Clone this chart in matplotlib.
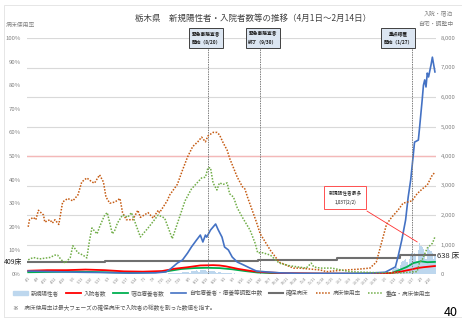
import pandas as pd
import matplotlib
matplotlib.use("Agg")
import matplotlib.pyplot as plt
from matplotlib.patches import Patch, Rectangle
from matplotlib.lines import Line2D

plt.rcParams['font.family'] = ['Noto Sans CJK JP', 'DejaVu Sans']

start = pd.Timestamp("2021-04-01")
n_days = 320  # 4/1 ~ 2/14

# 病床使用率 (%) : (day index from 4/1, value)
rate_days = [0, 1, 4, 6, 8, 12, 13, 17, 19, 21, 24, 27, 31, 35, 39, 42, 46, 50, 52, 56, 59, 61, 64, 68, 72,
             74, 77, 82, 86, 88, 94, 98, 102, 103, 109, 111, 117, 121, 125, 129, 133, 136, 139, 141, 145, 148,
             150, 153, 156, 158, 161, 164, 168, 170, 172, 179, 182, 190, 197, 208, 213, 229, 234, 244, 258, 268,
             273, 277, 281, 285, 290, 294, 301, 305, 309, 313, 317, 319]
rate_vals = [20, 23, 24, 23, 27, 25, 22, 23, 21.6, 23, 21, 30.5, 32, 31, 33.5, 39, 40.7, 39, 38.5, 42, 39, 32.6,
             30, 30.5, 32, 26, 23, 23, 27, 24, 26, 23.7, 27, 26, 31, 33.5, 38, 44, 49.6, 54, 56, 58, 56, 58.5,
             60, 60, 59, 55.5, 52.5, 49, 45, 41, 37, 36, 32.6, 22, 17, 10, 5, 2.5, 2.5, 1.7, 1, 1.5, 2, 2.5,
             5, 13, 21, 24, 27, 30, 31, 34, 36, 37.7, 42, 43]

# 重症・病床使用率 (%)
severe_days = [0, 4, 9, 17, 21, 23, 26, 29, 33, 35, 39, 43, 46, 48, 50, 54, 56, 60, 62, 66, 68, 70, 74, 78, 81,
               84, 88, 94, 102, 107, 113, 123, 128, 136, 139, 141, 143, 145, 148, 150, 153, 156, 158, 161, 164,
               168, 174, 178, 180, 184, 190, 194, 197, 205, 218, 222, 224, 229, 238, 252, 276, 292, 305, 307,
               309, 313, 317, 319]
severe_vals = [6, 7, 6.4, 7, 8, 8, 6, 4.6, 7, 12, 9, 8, 6.8, 14, 19.5, 17, 20, 25, 26, 17, 18.6, 21.6, 25, 24, 26,
               21.6, 15.7, 19.5, 25, 23.7, 15, 31, 36, 40.7, 41, 45, 45, 38.6, 35.6, 38.6, 38, 38.6, 34, 32.6,
               28, 24, 18.6, 13, 9, 9, 8, 6, 4.6, 3.5, 2.5, 4.6, 3, 2.5, 2.5, 1, 0.5, 0.5, 1, 5, 6, 11, 13, 15.7]

# 自宅療養者・療養等調整中数
home_days = [0, 20, 40, 60, 80, 100, 108, 111, 117, 121, 125, 128, 132, 135, 137, 139, 140, 143, 147, 149, 152,
             154, 157, 160, 164, 169, 174, 179, 187, 197, 213, 244, 268, 280, 288, 290, 293, 296, 298, 300, 302,
             303, 306, 307, 309, 310, 311, 312, 313, 314, 316, 317, 318, 319]
home_vals = [100, 80, 60, 50, 30, 40, 70, 150, 370, 475, 710, 915, 1150, 1320, 1085, 1320, 1250, 1490, 1695,
             1500, 1250, 915, 815, 575, 405, 305, 200, 100, 70, 40, 20, 20, 30, 60, 240, 575, 1150, 1830, 2600,
             3190, 4030, 4470, 4540, 4980, 5900, 6400, 6580, 6340, 6810, 6680, 7100, 7350, 7100, 6850]

# 入院者数
hosp_days = [0, 15, 30, 45, 60, 75, 90, 105, 115, 125, 135, 145, 150, 155, 165, 175, 185, 200, 230, 260, 280,
             290, 300, 305, 310, 319]
hosp_vals = [110, 130, 130, 150, 130, 90, 80, 100, 180, 230, 290, 300, 290, 260, 170, 100, 60, 30, 15, 10, 20,
             60, 150, 200, 230, 270]

# 宿泊療養者数
hotel_days = [0, 20, 40, 60, 80, 100, 110, 120, 130, 140, 150, 160, 170, 180, 200, 260, 285, 292, 297, 302,
              308, 313, 319]
hotel_vals = [60, 70, 80, 60, 40, 60, 100, 170, 200, 210, 200, 160, 100, 50, 15, 5, 30, 150, 240, 370, 430,
              400, 410]

# 確保病床 (step)
beds_days = [0, 60, 180, 242, 292, 319]
beds_vals = [409, 430, 474, 542, 638, 638]

# 新規陽性者 (daily)
pos_summer_start = 110
pos_summer = [20, 25, 30, 28, 22, 35, 40, 45, 50, 38, 30, 55, 60, 70, 75, 80, 60, 50, 85, 95, 110, 105, 120,
              90, 70, 120, 135, 150, 140, 130, 100, 80, 110, 115, 100, 90, 85, 60, 50, 70, 65, 55, 45, 30, 25,
              40, 35, 30, 25, 20, 15, 12, 20, 15, 12, 10, 8, 6, 8, 5]
pos_winter_start = 275
pos_winter = [3, 5, 8, 10, 20, 30, 40, 60, 70, 50, 60, 120, 170, 200, 250, 220, 170, 300, 400, 450, 480, 500,
              420, 300, 520, 640, 700, 680, 700, 620, 450, 800, 1037, 950, 900, 850, 700, 500, 850, 900, 820,
              780, 700, 500, 650]

events = [(141, "緊急事態宣言\n開始（8/20）", -1.5), (182, "緊急事態宣言\n終了（9/30）", 2.0),
          (301, "重点措置\n開始（1/27）", -11.0)]

fig = plt.figure(figsize=(4.62, 3.2), dpi=100)
# faint frame of the chart object (right edge lies beyond the crop)
fig.patches.append(Rectangle((4 / 462, 1 - 317 / 320), 470 / 462, 312 / 320, transform=fig.transFigure,
                             fill=False, ec="#e6e6e6", lw=0.7))
x0 = (27 - 28.2) / 1.275
x1 = (436 - 28.2) / 1.275
ax = fig.add_axes([27 / 462, 46 / 320, (436 - 27) / 462, 236 / 320])
axp = ax.twinx()
ax.set_xlim(x0, x1)
ax.set_ylim(0, 8000)
axp.set_ylim(0, 100)

grid_c = "#d9d9d9"
for v in range(0, 8001, 1000):
    ax.axhline(v, color=grid_c, lw=0.8, zorder=0)
ax.axhline(4000, color="#f4b8b8", lw=1.0, zorder=0.5)

ax.bar(range(pos_summer_start, pos_summer_start + len(pos_summer)), pos_summer, width=1.0,
       color="#bdd7ee", zorder=1)
ax.bar(range(pos_winter_start, pos_winter_start + len(pos_winter)), pos_winter, width=1.0,
       color="#bdd7ee", zorder=1)

ax.plot(beds_days, beds_vals, color="#6f6f6f", lw=1.5, drawstyle="steps-post", zorder=2)
ax.plot(hotel_days, hotel_vals, color="#00b050", lw=1.3, zorder=3)
ax.plot(hosp_days, hosp_vals, color="#ff0000", lw=1.3, zorder=3)
ax.plot(home_days, home_vals, color="#4472c4", lw=1.2, zorder=4)

for d, label, off in events:
    ax.vlines(d, 0, 7650, color="#7f7f7f", lw=0.7, linestyles=(0, (1.5, 1.0)), zorder=5)

axp.plot(rate_days, rate_vals, color="#c55a11", lw=1.1, ls=(0, (1, 1)), zorder=3)
axp.plot(severe_days, severe_vals, color="#70ad47", lw=1.1, ls=(0, (1, 1)), zorder=3)

for d, label, off in events:
    axp.text(d + off, 100, label, ha="center", va="center", fontsize=3.4, fontweight="bold",
             color="#1f1f1f", linespacing=2.1, zorder=6,
             bbox=dict(boxstyle="square,pad=0.55", fc="#dce6f2", ec="#404040", lw=0.7))

axp.annotate("新規陽性者最多\n1,037(2/2)", xy=(307, 1037 / 80), xytext=(248.5, 2590 / 80),
             ha="center", va="center", fontsize=3.4, color="#1f1f1f", linespacing=2.0,
             bbox=dict(boxstyle="square,pad=0.9", fc="white", ec="#ff5050", lw=0.7),
             arrowprops=dict(arrowstyle="-", color="#ff3030", lw=0.6), zorder=6)

# right axis: counts
ax.yaxis.tick_right()
ax.set_yticks(range(0, 8001, 1000))
ax.set_yticklabels([f"{v:,}" for v in range(0, 8001, 1000)])
ax.tick_params(axis="y", length=0, pad=3.5, labelsize=4.3, labelcolor="#808080",
               left=False, labelleft=False, right=True, labelright=True)

tick_days = list(range(0, n_days, 7))
tick_labels = [f"{(start + pd.Timedelta(days=d)).month}/{(start + pd.Timedelta(days=d)).day}" for d in tick_days]
ax.set_xticks(tick_days)
ax.set_xticklabels(tick_labels, rotation=45, ha="right", rotation_mode="anchor")
ax.tick_params(axis="x", length=0, pad=1.5, labelsize=2.6, labelcolor="#808080")

# left axis: percent
axp.set_yticks(range(0, 101, 10))
axp.set_yticklabels([f"{v}%" for v in range(0, 101, 10)])
axp.tick_params(axis="y", length=0, pad=4.5, labelsize=4.3, labelcolor="#808080",
                left=True, labelleft=True, right=False, labelright=False)

for a in (ax, axp):
    for s in a.spines.values():
        s.set_visible(False)

fig.text(4 / 462, 1 - 262 / 320, "409床", ha="left", va="center", fontsize=5, color="#262626")
fig.text(437 / 462, 1 - 256 / 320, "638 床", ha="left", va="center", fontsize=5.5, color="#262626")

fig.text(253 / 462, 1 - 18 / 320, "栃木県　新規陽性者・入院者数等の推移（4月1日～2月14日）",
         ha="center", va="center", fontsize=6.1, color="#404040")
fig.text(6 / 462, 1 - 25 / 320, "病床使用率", ha="left", va="center", fontsize=4.2, color="#808080")
fig.text(453 / 462, 1 - 13 / 320, "入院・宿泊", ha="right", va="center", fontsize=4.2, color="#808080")
fig.text(453 / 462, 1 - 24 / 320, "自宅・調整中", ha="right", va="center", fontsize=4.2, color="#808080")

handles = [Patch(color="#bdd7ee"),
           Line2D([], [], color="#ff0000", lw=1.3),
           Line2D([], [], color="#00b050", lw=1.3),
           Line2D([], [], color="#4472c4", lw=1.2),
           Line2D([], [], color="#6f6f6f", lw=1.5),
           Line2D([], [], color="#c55a11", lw=1.1, ls=(0, (1, 1))),
           Line2D([], [], color="#70ad47", lw=1.1, ls=(0, (1, 1)))]
labels = ["新規陽性者", "入院者数", "宿泊療養者数", "自宅療養者・療養等調整中数", "確保病床", "病床使用率", "重症・病床使用率"]
fig.legend(handles, labels, loc="center", bbox_to_anchor=(222 / 462, 1 - 293 / 320), ncol=7,
           fontsize=4.1, frameon=False, handlelength=2.6, handleheight=0.5, columnspacing=1.2,
           handletextpad=0.5, labelcolor="#595959")

fig.text(13 / 462, 1 - 308 / 320, "※　病床使用率は最大フェーズの確保病床で入院者の総数を割った数値を指す。",
         ha="left", va="center", fontsize=4.1, color="#595959")
fig.text(458 / 462, 1 - 312 / 320, "40", ha="right", va="center", fontsize=9, color="#000000")

plt.savefig("out.png", dpi=100)
